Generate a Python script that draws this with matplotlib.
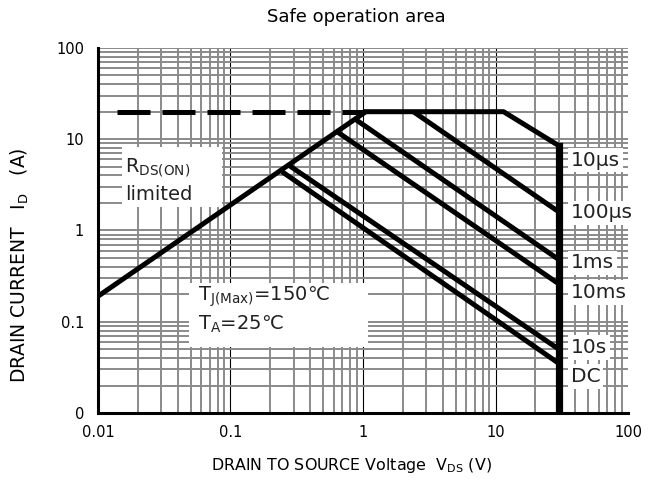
import matplotlib
matplotlib.use('Agg')
import matplotlib.pyplot as plt
from matplotlib.patches import Rectangle
from matplotlib.ticker import FixedLocator, LogLocator, NullFormatter

plt.rcParams['font.family'] = ['DejaVu Sans']
plt.rcParams['mathtext.fontset'] = 'dejavusans'

# Safe operating area boundaries (V_DS in V, I_D in A)
rds_v = [0.01, 1.05]
rds_i = [0.19, 20]
pkg_v = [0.014, 1.0]          # package current limit (dashed part)
pkg_i = [20, 20]
env_v = [1.05, 11.5, 30, 30]  # 10 us envelope
env_i = [20, 20, 8.5, 0.01]
p100us_v = [2.4, 30]
p100us_i = [20, 1.6]
p1ms_v = [0.85, 30]
p1ms_i = [17, 0.48]
p10ms_v = [0.62, 30]
p10ms_i = [12.4, 0.26]
p10s_v = [0.28, 30]
p10s_i = [5.1, 0.05]
dc_v = [0.245, 30]
dc_i = [4.4, 0.035]

curve_labels = ['10\u00b5s', '100\u00b5s', '1ms', '10ms', '10s', 'DC']
label_y = [5.9, 1.56, 0.44, 0.21, 0.052, 0.025]

x_ticks = [0.01, 0.1, 1, 10, 100]
x_ticklabels = ['0.01', '0.1', '1', '10', '100']
y_ticks = [0.01, 0.1, 1, 10, 100]
y_ticklabels = ['0', '0.1', '1', '10', '100']

fig = plt.figure(figsize=(6.55, 4.79), dpi=100)
ax = fig.add_axes([0.1496, 0.1378, 0.8092, 0.7622])
ax.set_xscale('log')
ax.set_yscale('log')
ax.set_xlim(0.01, 100)
ax.set_ylim(0.01, 100)

ax.xaxis.set_major_locator(FixedLocator(x_ticks))
ax.yaxis.set_major_locator(FixedLocator(y_ticks))
ax.set_xticklabels(x_ticklabels)
ax.set_yticklabels(y_ticklabels)
ax.xaxis.set_minor_locator(LogLocator(base=10, subs=range(2, 10)))
ax.yaxis.set_minor_locator(LogLocator(base=10, subs=range(2, 10)))
ax.xaxis.set_minor_formatter(NullFormatter())
ax.yaxis.set_minor_formatter(NullFormatter())
ax.tick_params(which='both', length=0, labelsize=10.5)
ax.tick_params(axis='x', pad=9)
ax.tick_params(axis='y', pad=10)

# datasheet style grid
ax.grid(which='minor', color='#8a8a8a', linewidth=1.4, zorder=0)
ax.grid(which='major', axis='y', color='#8a8a8a', linewidth=1.4, zorder=0)
ax.grid(which='major', axis='x', color='black', linewidth=0.8, zorder=0)
ax.set_axisbelow(True)
ax.get_xgridlines()[-1].set_visible(False)

for side in ['top', 'right']:
    ax.spines[side].set_visible(False)
for side in ['left', 'bottom']:
    ax.spines[side].set_linewidth(2.2)

# white label boxes
ax.add_patch(Rectangle((0.0152, 1.81), 0.0863 - 0.0152, 8.2 - 1.81,
                       facecolor='white', edgecolor='none', zorder=2))
ax.add_patch(Rectangle((0.049, 0.053), 1.09 - 0.049, 0.266 - 0.053,
                       facecolor='white', edgecolor='none', zorder=2))

lw = 3.6
ax.plot(rds_v, rds_i, color='black', lw=lw, solid_capstyle='butt', zorder=3)
ax.plot(pkg_v, pkg_i, color='black', lw=lw, dashes=(6.6, 2.4), zorder=3)
ax.plot(env_v[:3], env_i[:3], color='black', lw=lw, zorder=3)
ax.plot(env_v[2:], env_i[2:], color='black', lw=5.2, zorder=3)
for v, i in [(p100us_v, p100us_i), (p1ms_v, p1ms_i), (p10ms_v, p10ms_i),
             (p10s_v, p10s_i), (dc_v, dc_i)]:
    ax.plot(v, i, color='black', lw=lw, solid_capstyle='butt', zorder=3)

for lab, y in zip(curve_labels, label_y):
    ax.text(37, y, lab, fontsize=14.5, color='#222222', va='center',
            ha='left', zorder=4,
            bbox=dict(facecolor='white', edgecolor='none', pad=2))

ax.text(0.016, 4.9, '$\\mathregular{R_{DS(ON)}}$', fontsize=14,
        color='#222222', va='center', zorder=4)
ax.text(0.016, 2.45, 'limited', fontsize=14, color='#222222', va='center',
        zorder=4)
ax.text(0.057, 0.19, '$\\mathregular{T_{J(Max)}}$=150\u2103', fontsize=14,
        color='#222222', va='center', zorder=4)
ax.text(0.057, 0.093, '$\\mathregular{T_{A}}$=25\u2103', fontsize=14,
        color='#222222', va='center', zorder=4)

fig.text(0.544, 0.9645, 'Safe operation area', fontsize=13, ha='center',
         va='center')
fig.text(0.031, 0.447, 'DRAIN CURRENT   $\\mathregular{I_D}$   (A)',
         fontsize=13.5, rotation=90, ha='center', va='center')
fig.text(0.537, 0.029, 'DRAIN TO SOURCE Voltage  $\\mathregular{V_{DS}}$ (V)',
         fontsize=11.4, ha='center', va='center')

fig.savefig('out.png', dpi=100)
